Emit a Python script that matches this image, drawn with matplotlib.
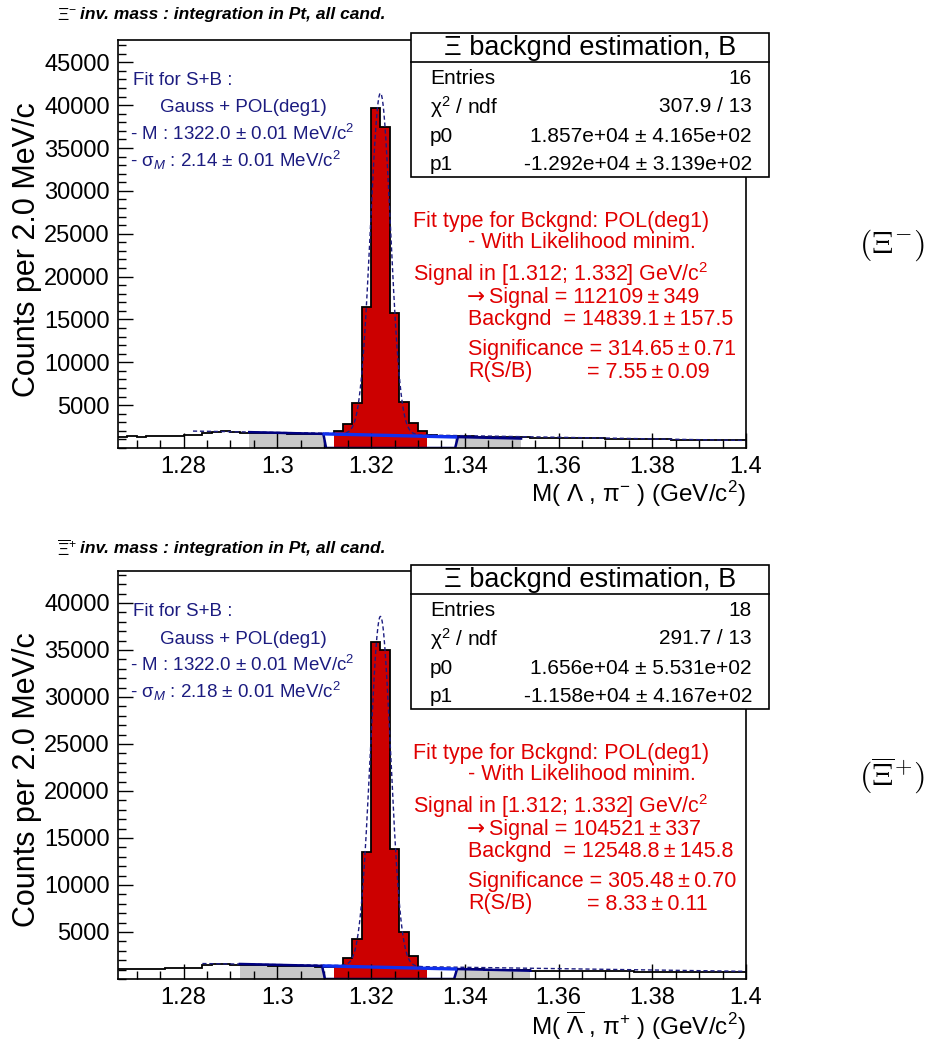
import numpy as np
import matplotlib.pyplot as plt
from matplotlib.patches import Rectangle
from matplotlib.lines import Line2D
from matplotlib.ticker import MultipleLocator

plt.rcParams['font.family'] = ['Liberation Sans', 'DejaVu Sans']
plt.rcParams['mathtext.fontset'] = 'custom'
plt.rcParams['mathtext.rm'] = 'Liberation Sans'
plt.rcParams['mathtext.it'] = 'Liberation Sans:italic'
plt.rcParams['mathtext.bf'] = 'Liberation Sans:bold'

# bins of 2 MeV from 1.266 to 1.4 GeV
edges = np.round(np.linspace(1.266, 1.4, 68), 3)

xi_counts = [1340, 1350, 1330, 1360, 1350, 1370, 1380, 1480, 1520, 1780,
             1900, 1940, 1850, 1800, 1770, 1750, 1720, 1700, 1690, 1670,
             1660, 1640, 1620, 2000, 2750, 5250, 16500, 39700, 37400, 15800,
             5400, 2900, 1980, 1480, 1440, 1400, 1370, 1350, 1330, 1310,
             1290, 1270, 1250, 1240, 1220, 1210, 1190, 1170, 1160, 1140,
             1130, 1110, 1100, 1080, 1070, 1050, 1040, 1020, 1000, 990,
             970, 950, 940, 920, 910, 900, 880]
axi_counts = [1050, 1060, 1040, 1070, 1060, 1150, 1160, 1180, 1200, 1450,
              1580, 1600, 1540, 1480, 1460, 1440, 1420, 1400, 1380, 1360,
              1340, 1320, 1300, 1400, 2200, 4250, 13500, 35900, 35000, 13850,
              5050, 2400, 1150, 1120, 1100, 1080, 1060, 1040, 1020, 1000,
              980, 960, 940, 920, 900, 890, 880, 870, 860, 850,
              840, 830, 820, 810, 800, 790, 780, 770, 760, 760,
              750, 740, 740, 730, 720, 720, 710]

signal_win = (1.312, 1.332)
xi_sidebands = [(1.294, 1.310), (1.338, 1.352)]
axi_sidebands = [(1.292, 1.310), (1.338, 1.354)]

# sideband background fit (pol1): p0, p1
xi_bkg = (1.857e4, -1.292e4)
axi_bkg = (1.656e4, -1.158e4)
# S+B fit: gauss mean, sigma, amplitude, pol1 p0, pol1 p1, fit range start
xi_sb_fit = (1.322, 0.00214, 39800, 13862, -9273, 1.282)
axi_sb_fit = (1.322, 0.00218, 37200, 10806, -7136, 1.284)

W, H = 934, 1045
fig = plt.figure(figsize=(W / 100, H / 100), dpi=100)


def fx(px):
    return px / W


def fy(py):
    return 1 - py / H


navy = '#1c1c80'
red = '#e00000'
pm = '\u2009±\u2009'


def panel(top, counts, sidebands, bkg, sbfit, ymax):
    ax = fig.add_axes([fx(118), fy(top + 408), 628 / W, 408 / H])
    counts = np.array(counts, dtype=float)
    lo = edges[:-1]
    in_sig = (lo >= signal_win[0] - 1e-6) & (lo < signal_win[1] - 1e-6)
    in_sb = np.zeros(len(lo), bool)
    for a, b in sidebands:
        in_sb |= (lo >= a - 1e-6) & (lo < b - 1e-6)
    ax.bar(lo[in_sb], counts[in_sb], width=0.002, align='edge', color='#c8c8c8', lw=0)
    ax.bar(lo[in_sig], counts[in_sig], width=0.002, align='edge', color='#cc0000', lw=0)
    ax.stairs(counts, edges, color='black', lw=1.3, baseline=None)

    m, s, amp, q0, q1, x0 = sbfit
    xs = np.linspace(x0, edges[-1], 1500)
    ax.plot(xs, amp * np.exp(-0.5 * ((xs - m) / s) ** 2) + q0 + q1 * xs,
            color=navy, lw=1.0, ls=(0, (3, 2)))
    # sideband background, zero in the rejected region
    p0, p1 = bkg
    xb = np.linspace(sidebands[0][0], sidebands[1][1], 100)
    rej = (xb > sidebands[0][1]) & (xb < sidebands[1][0])
    ax.plot(xb, np.where(rej, 0, p0 + p1 * xb), color='#000080', lw=1.8)
    xg = np.linspace(sidebands[0][1], sidebands[1][0], 50)
    ax.plot(xg, p0 + p1 * xg, color='#1030ee', lw=2.4)

    ax.set_xlim(edges[0], edges[-1])
    ax.set_ylim(0, ymax)
    ax.xaxis.set_major_locator(MultipleLocator(0.02))
    ax.xaxis.set_minor_locator(MultipleLocator(0.005))
    ax.set_yticks(np.arange(5000, ymax, 5000))
    ax.yaxis.set_minor_locator(MultipleLocator(1000))
    ax.xaxis.set_major_formatter(plt.FuncFormatter(lambda v, p: f'{v:g}'))
    ax.tick_params(which='both', direction='in', top=False, right=False,
                   labelsize=17, width=1.0)
    ax.tick_params(which='major', length=11, pad=6)
    ax.tick_params(which='minor', length=5.5)
    for sp in ax.spines.values():
        sp.set_linewidth(1.2)
    return ax


ax1 = panel(40, xi_counts, xi_sidebands, xi_bkg, xi_sb_fit, 47600)
ax2 = panel(571, axi_counts, axi_sidebands, axi_bkg, axi_sb_fit, 43400)


def txt(x, y, s, **kw):
    kw.setdefault('va', 'center')
    fig.text(fx(x), fy(y), s, **kw)


def statbox(top, entries, chi, p0s, p1s):
    fig.add_artist(Rectangle((fx(411), fy(top + 144)), 358 / W, 144 / H,
                             transform=fig.transFigure, fc='white', ec='black', lw=1.2))
    fig.add_artist(Line2D([fx(411), fx(769)], [fy(top + 29)] * 2,
                          transform=fig.transFigure, color='black', lw=1.2))
    txt(590, top + 15, r'Ξ backgnd estimation, B', fontsize=19.5, ha='center')
    rows = [('Entries', entries), (r'χ$^{2}$ / ndf', chi), ('p0', p0s), ('p1', p1s)]
    for i, (lab, val) in enumerate(rows):
        y = top + 45 + i * 29
        txt(430, y, lab, fontsize=15)
        txt(752, y, val, fontsize=15, ha='right')


def redtext(top, sig, bkg, signif, ratio):
    fs = 15.5
    txt(413, top, 'Fit type for Bckgnd: POL(deg1)', color=red, fontsize=fs)
    txt(468, top + 20, '- With Likelihood minim.', color=red, fontsize=fs)
    txt(413, top + 52, r'Signal in [1.312; 1.332] GeV/c$^{2}$', color=red, fontsize=fs)
    txt(467, top + 75, '→', color=red, fontsize=fs, family='DejaVu Sans')
    txt(489, top + 75, 'Signal = ' + sig, color=red, fontsize=fs)
    txt(468, top + 97, 'Backgnd  = ' + bkg, color=red, fontsize=fs)
    txt(468, top + 127, 'Significance = ' + signif, color=red, fontsize=fs)
    txt(468, top + 150, 'R(S/B)', color=red, fontsize=fs)
    txt(587, top + 150, '= ' + ratio, color=red, fontsize=fs)


def bluetext(top, width):
    fs = 13.5
    txt(133, top, 'Fit for S+B :', color=navy, fontsize=fs)
    txt(160, top + 27, 'Gauss + POL(deg1)', color=navy, fontsize=fs)
    txt(130, top + 53, r'- M : 1322.0 ± 0.01 MeV/c$^{2}$', color=navy, fontsize=fs)
    txt(130, top + 79, r'- σ$_{M}$ : ' + width + r' ± 0.01 MeV/c$^{2}$', color=navy, fontsize=fs)


# top panel
txt(57, 15, r'Ξ$^{-}$', fontsize=12.5)
txt(80, 15, 'inv. mass : integration in Pt, all cand.', fontsize=12.5,
    fontweight='bold', fontstyle='italic')
bluetext(81, '2.14')
statbox(33, '16', '307.9 / 13', '1.857e+04 ± 4.165e+02', '-1.292e+04 ± 3.139e+02')
redtext(222, '112109' + pm + '349', '14839.1' + pm + '157.5',
        '314.65' + pm + '0.71', '7.55' + pm + '0.09')
txt(27, 250, 'Counts per 2.0 MeV/c', fontsize=22, rotation=90, ha='center')
txt(746, 494, r'M( Λ , π$^{-}$ ) (GeV/c$^{2}$)', fontsize=17.5, ha='right')
txt(892, 245, r'$(\Xi^{-})$', fontsize=23, ha='center', math_fontfamily='cm')

# bottom panel
txt(57, 548, r'$\overline{\Xi}^{+}$', fontsize=12.5)
txt(80, 548, 'inv. mass : integration in Pt, all cand.', fontsize=12.5,
    fontweight='bold', fontstyle='italic')
bluetext(612, '2.18')
statbox(565, '18', '291.7 / 13', '1.656e+04 ± 5.531e+02', '-1.158e+04 ± 4.167e+02')
redtext(754, '104521' + pm + '337', '12548.8' + pm + '145.8',
        '305.48' + pm + '0.70', '8.33' + pm + '0.11')
txt(27, 780, 'Counts per 2.0 MeV/c', fontsize=22, rotation=90, ha='center')
txt(746, 1026, r'M( $\overline{\Lambda}$ , π$^{+}$ ) (GeV/c$^{2}$)', fontsize=17.5, ha='right')
txt(892, 776, r'$(\overline{\Xi}^{+})$', fontsize=23, ha='center', math_fontfamily='cm')

fig.savefig('out.png', dpi=100, facecolor='white')
